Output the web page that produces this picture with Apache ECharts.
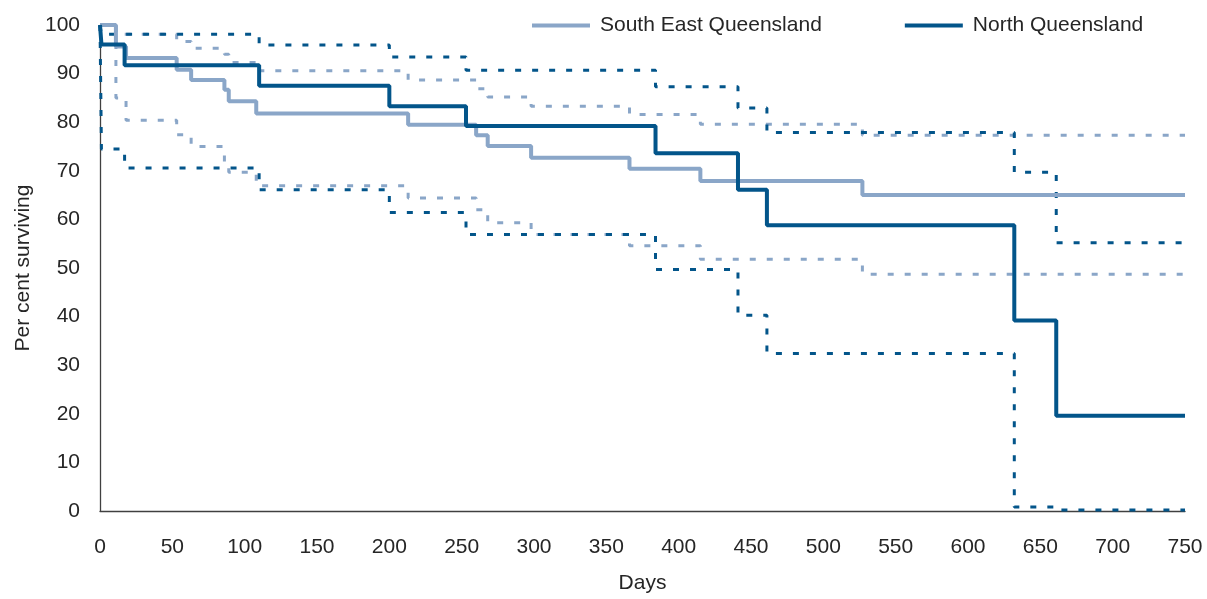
<!DOCTYPE html>
<html>
<head>
<meta charset="utf-8">
<title>Survival by region</title>
<script src="https://cdn.jsdelivr.net/npm/echarts@6/dist/echarts.min.js"></script>
<style>
  html, body { margin: 0; padding: 0; background: #ffffff; }
  #chart { width: 1207px; height: 599px; }
</style>
</head>
<body>
<div id="chart"></div>
<script>
// Kaplan-Meier estimates (per cent surviving) with 95% confidence bounds
const seqDays  = [0, 11, 18, 53, 63, 86, 89, 108, 213, 260, 268, 298, 366, 415, 527, 750];
const seqSurv  = [100, 95.6, 93.2, 90.8, 88.7, 86.7, 84.3, 81.8, 79.5, 77.3, 75.1, 72.7, 70.4, 67.9, 65.0, 65.0];
const seqUpper = [100, 98.1, 98.1, 96.6, 95.2, 94.0, 92.3, 90.6, 88.7, 86.9, 85.2, 83.3, 81.6, 79.6, 77.3, 77.3];
const seqLower = [100, 85.0, 80.4, 77.4, 75.0, 71.2, 69.7, 66.9, 64.4, 62.0, 59.3, 56.9, 54.6, 51.8, 48.7, 48.7];

const nqDays  = [0, 1, 17, 110, 200, 253, 384, 441, 461, 632, 661, 750];
const nqSurv  = [100, 96.0, 91.7, 87.5, 83.3, 79.2, 73.6, 66.1, 58.8, 39.2, 19.6, 19.6];
const nqUpper = [100, 98.1, 98.1, 95.9, 93.4, 90.7, 87.3, 82.9, 77.9, 69.7, 55.2, 55.2];
const nqLower = [100, 74.5, 70.6, 66.1, 61.4, 56.9, 49.7, 40.3, 32.4, 0.8, 0.2, 0.2];

const regionNames = ['South East Queensland', 'North Queensland'];
const xTicks = { min: 0, max: 750, interval: 50 };
const yTicks = { min: 0, max: 100, interval: 10 };

const SEQ_COLOR = '#8aa6c8';
const NQ_COLOR = '#03558a';
const TEXT_COLOR = '#262626';
const FONT = "'Liberation Sans', Arial, sans-serif";

const pairs = (xs, ys) => xs.map((x, i) => [x, ys[i]]);

function stepSeries(name, xs, ys, color, dashed) {
  return {
    name: name,
    type: 'line',
    step: 'end',
    symbol: 'none',
    showSymbol: false,
    silent: true,
    data: pairs(xs, ys),
    lineStyle: dashed
      ? { color: color, width: 3, type: [6, 11], cap: 'butt' }
      : { color: color, width: 4 },
    itemStyle: { color: color },
    z: dashed ? 2 : 3
  };
}

const chart = echarts.init(document.getElementById('chart'), null, { renderer: 'canvas' });

const axisCommon = {
  type: 'value',
  axisLine: { show: true, lineStyle: { color: '#404040', width: 1.3 } },
  axisTick: { show: false },
  splitLine: { show: false },
  axisLabel: { fontSize: 21, color: TEXT_COLOR, fontFamily: FONT },
  nameLocation: 'middle',
  nameTextStyle: { fontSize: 21, color: TEXT_COLOR, fontFamily: FONT }
};

chart.setOption({
  animation: false,
  backgroundColor: '#ffffff',
  textStyle: { fontFamily: FONT },
  grid: { left: 100, right: 22, top: 25, bottom: 84, containLabel: false },
  legend: {
    data: regionNames,
    icon: 'rect',
    itemWidth: 58,
    itemHeight: 4,
    itemGap: 83,
    left: 527,
    top: 10,
    textStyle: { fontSize: 21, color: TEXT_COLOR, fontFamily: FONT, padding: [0, 0, 0, 5] }
  },
  xAxis: Object.assign({}, axisCommon, {
    min: xTicks.min, max: xTicks.max, interval: xTicks.interval,
    name: 'Days', nameGap: 62,
    axisLabel: Object.assign({}, axisCommon.axisLabel, { margin: 26 })
  }),
  yAxis: Object.assign({}, axisCommon, {
    min: yTicks.min, max: yTicks.max, interval: yTicks.interval,
    name: 'Per cent surviving', nameGap: 66,
    axisLabel: Object.assign({}, axisCommon.axisLabel, { margin: 20 })
  }),
  series: [
    stepSeries('SEQ upper', seqDays, seqUpper, SEQ_COLOR, true),
    stepSeries('SEQ lower', seqDays, seqLower, SEQ_COLOR, true),
    stepSeries('NQ upper', nqDays, nqUpper, NQ_COLOR, true),
    stepSeries('NQ lower', nqDays, nqLower, NQ_COLOR, true),
    stepSeries(regionNames[0], seqDays, seqSurv, SEQ_COLOR, false),
    stepSeries(regionNames[1], nqDays, nqSurv, NQ_COLOR, false)
  ]
});
</script>
</body>
</html>
